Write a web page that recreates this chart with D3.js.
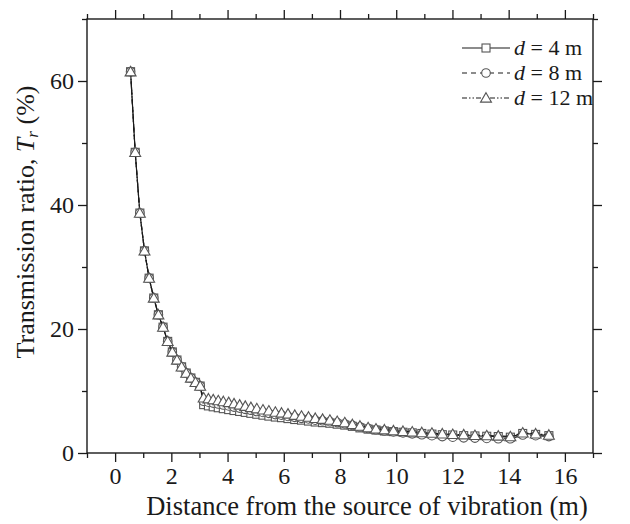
<!DOCTYPE html>
<html><head><meta charset="utf-8">
<script src="https://cdn.jsdelivr.net/npm/d3@7"></script>
<style>
body{margin:0;background:#fff;}
text{font-family:"Liberation Serif","Times New Roman",serif;fill:#1a1a1a;}
</style></head>
<body><svg id="c" width="630" height="524"></svg>
<script>
const distance = [0.55,0.715,0.88,1.045,1.21,1.375,1.54,1.705,1.87,2.035,2.2,2.365,2.53,2.695,2.86,3.025,
 3.15,3.32,3.49,3.67,3.85,4.04,4.23,4.43,4.63,4.83,5.04,5.26,5.47,5.70,5.92,6.15,6.39,6.63,6.88,7.12,7.38,7.64,7.90,8.17,8.44,8.71,
 9.0,9.28,9.58,9.9,10.24,10.57,10.91,11.27,11.64,12.01,12.4,12.8,13.22,13.63,14.06,14.5,14.96,15.43];
const preJump = [61.5,48.5,38.7,32.6,28.2,25.0,22.3,20.3,18.0,16.3,15.0,13.9,12.9,12.1,11.4,10.8];
const d4 = preJump.concat([7.8,7.6,7.45,7.3,7.15,7.0,6.85,6.7,6.55,6.4,6.25,6.1,5.95,5.8,5.7,5.55,5.4,5.3,5.15,5.0,4.9,4.8,4.65,4.5,4.3,4.05,
 3.85,3.7,3.55,3.45,3.35,3.25,3.15,3.05,2.95,2.9,2.8,2.75,2.7,2.65,2.55,3.15,3.0,2.8]);
const d8 = preJump.concat([8.35,8.2,8.05,7.9,7.75,7.6,7.4,7.25,7.05,6.9,6.7,6.55,6.4,6.2,6.1,5.9,5.75,5.6,5.5,5.3,5.2,5.05,4.9,4.7,4.45,4.2,
 3.95,3.75,3.55,3.4,3.25,3.1,2.95,2.8,2.65,2.55,2.45,2.4,2.35,2.3,2.3,2.9,2.8,2.65]);
const d12 = preJump.concat([8.9,8.75,8.6,8.45,8.3,8.15,7.95,7.75,7.55,7.35,7.15,6.95,6.8,6.6,6.45,6.3,6.1,5.95,5.8,5.6,5.45,5.3,5.1,4.9,4.6,4.35,
 4.1,3.9,3.75,3.6,3.5,3.4,3.3,3.2,3.1,3.0,2.95,2.85,2.8,2.75,2.65,3.25,3.1,2.9]);
const seriesNames = ["d = 4 m","d = 8 m","d = 12 m"];
const xTicks = [0,2,4,6,8,10,12,14,16];
const xMinor = [-1,1,3,5,7,9,11,13,15,17];
const yTicks = [0,20,40,60];
const yMinor = [10,30,50,70];

const svg = d3.select("#c");
const L=87, R=593, T=19, B=453;
const x = d3.scaleLinear().domain([-1,17]).range([L,R]);
const y = d3.scaleLinear().domain([0,70]).range([B,T]);
const ink="#1a1a1a";

function axisStyle(g){g.select(".domain").remove();g.selectAll("line").attr("stroke",ink).attr("stroke-width",1.3);}
// bottom
svg.append("g").attr("transform",`translate(0,${B})`).call(d3.axisBottom(x).tickValues(xTicks).tickSize(9).tickPadding(5).tickFormat(d3.format("d"))).call(axisStyle)
 .selectAll("text").style("font-size","24px").attr("fill",ink);
svg.append("g").attr("transform",`translate(0,${B})`).call(d3.axisBottom(x).tickValues(xMinor).tickSize(5).tickFormat("")).call(axisStyle);
// top
svg.append("g").attr("transform",`translate(0,${T})`).call(d3.axisTop(x).tickValues(xTicks).tickSize(9).tickFormat("")).call(axisStyle);
svg.append("g").attr("transform",`translate(0,${T})`).call(d3.axisTop(x).tickValues(xMinor).tickSize(5).tickFormat("")).call(axisStyle);
// left
svg.append("g").attr("transform",`translate(${L},0)`).call(d3.axisLeft(y).tickValues(yTicks).tickSize(9).tickPadding(4).tickFormat(d3.format("d"))).call(axisStyle)
 .selectAll("text").style("font-size","24px").attr("fill",ink);
svg.append("g").attr("transform",`translate(${L},0)`).call(d3.axisLeft(y).tickValues(yMinor).tickSize(5).tickFormat("")).call(axisStyle);
// right
svg.append("g").attr("transform",`translate(${R},0)`).call(d3.axisRight(y).tickValues(yTicks).tickSize(9).tickFormat("")).call(axisStyle);
svg.append("g").attr("transform",`translate(${R},0)`).call(d3.axisRight(y).tickValues(yMinor).tickSize(5).tickFormat("")).call(axisStyle);
// frame
svg.append("rect").attr("x",L).attr("y",T).attr("width",R-L).attr("height",B-T).attr("fill","none").attr("stroke",ink).attr("stroke-width",1.4);

// titles
svg.append("text").attr("x",367).attr("y",515).attr("text-anchor","middle").style("font-size","26.5px")
 .text("Distance from the source of vibration (m)");
const yt = svg.append("text").attr("transform","translate(34,222) rotate(-90)").attr("text-anchor","middle").style("font-size","26px");
yt.append("tspan").text("Transmission ratio, ");
yt.append("tspan").style("font-style","italic").text("T");
yt.append("tspan").style("font-style","italic").style("font-size","17px").attr("dy",4).text("r");
yt.append("tspan").attr("dy",-4).text(" (%)");

// series
const dashes = ["none","5,4","5,2,1.5,2,1.5,2"];
const sets = [d4,d8,d12];
const markerStroke="#555";
function drawMarker(g,kind,cx,cy){
  if(kind===0) g.append("rect").attr("x",cx-4).attr("y",cy-4).attr("width",8).attr("height",8);
  else if(kind===1) g.append("circle").attr("cx",cx).attr("cy",cy).attr("r",4.3);
  else g.append("path").attr("d",d3.symbol(d3.symbolTriangle,52)()).attr("transform",`translate(${cx},${cy+1})`);
}
const line = d3.line().x(d=>x(d[0])).y(d=>y(d[1]));
sets.forEach((vals,k)=>{
  const pts = distance.map((d,i)=>[d,vals[i]]);
  svg.append("path").datum(pts).attr("d",line).attr("fill","none").attr("stroke",ink).attr("stroke-width",1.2).attr("stroke-dasharray",dashes[k]);
  const g = svg.append("g").attr("fill","#fff").attr("stroke",markerStroke).attr("stroke-width",1.1);
  pts.forEach(p=>drawMarker(g,k,x(p[0]),y(p[1])));
});

// legend
const ly=[48,73,98];
seriesNames.forEach((n,k)=>{
  svg.append("line").attr("x1",462).attr("x2",510).attr("y1",ly[k]).attr("y2",ly[k]).attr("stroke",ink).attr("stroke-width",1.2).attr("stroke-dasharray",dashes[k]);
  const g = svg.append("g").attr("fill","#fff").attr("stroke",markerStroke).attr("stroke-width",1.1);
  drawMarker(g,k,486,ly[k]);
  const t = svg.append("text").attr("x",514).attr("y",ly[k]+7).style("font-size","22px");
  t.append("tspan").style("font-style","italic").text("d");
  t.append("tspan").text(n.slice(1));
});
</script></body></html>
